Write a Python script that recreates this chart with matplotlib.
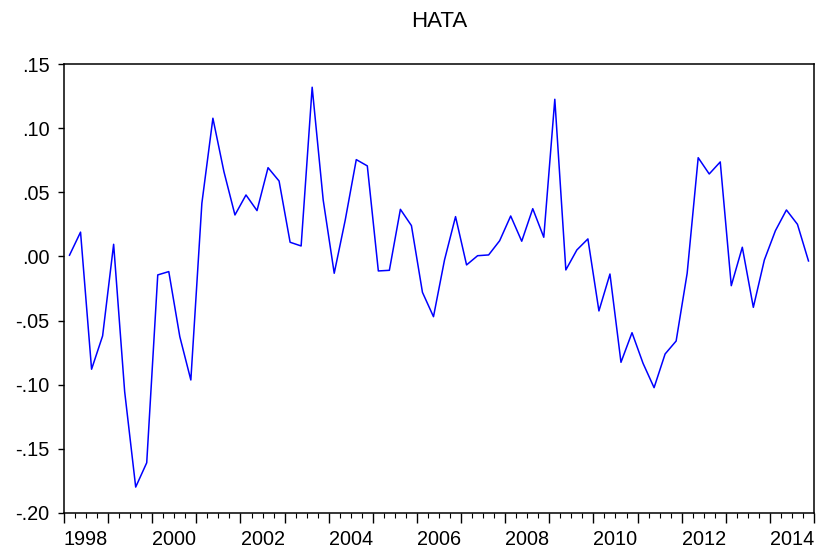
import numpy as np
import matplotlib
matplotlib.use("Agg")
import matplotlib.pyplot as plt

# quarterly residuals, 1998Q1 - 2014Q4
start_year = 1998
end_year = 2015
hata = [
    0.001, 0.019, -0.088, -0.062, 0.0095, -0.1055, -0.180, -0.161,
    -0.0144, -0.0118, -0.0626, -0.0964, 0.0415, 0.1079, 0.0662, 0.0324,
    0.048, 0.0358, 0.0693, 0.0589, 0.0111, 0.0082, 0.1321, 0.0441,
    -0.0131, 0.0285, 0.0756, 0.0707, -0.0113, -0.0108, 0.0368, 0.0241,
    -0.028, -0.047, -0.0027, 0.0311, -0.0066, 0.0006, 0.0012, 0.0123,
    0.0316, 0.0119, 0.0373, 0.015, 0.1227, -0.0105, 0.0051, 0.0137,
    -0.0425, -0.0137, -0.0826, -0.0595, -0.0834, -0.1024, -0.0761, -0.066,
    -0.0131, 0.0771, 0.0644, 0.0738, -0.0228, 0.0072, -0.0397, -0.0027,
    0.0201, 0.0363, 0.0251, -0.0035,
]
y_ticks = [0.15, 0.10, 0.05, 0.00, -0.05, -0.10, -0.15, -0.20]
y_labels = [".15", ".10", ".05", ".00", "-.05", "-.10", "-.15", "-.20"]
label_years = list(range(1998, 2015, 2))

plt.rcParams['font.family'] = ['Liberation Sans', 'DejaVu Sans']

fig = plt.figure(figsize=(8.16, 5.52), dpi=100)
ax = fig.add_axes([64 / 816, 1 - 512.7 / 552, (814 - 64) / 816, (512.7 - 64.3) / 552])

# observations sit in the middle of each quarter
x = start_year + (np.arange(len(hata)) + 0.5) / 4
ax.plot(x, hata, color='#0000FF', lw=1.1)

ax.set_xlim(start_year, end_year)
ax.set_ylim(-0.20, 0.15)

ax.set_yticks(y_ticks, labels=y_labels)

# long ticks at year boundaries, short ones at quarters, labels mid-year
ax.set_xticks(range(start_year, end_year + 1), labels=[])
quarters = [start_year + q / 4 for q in range((end_year - start_year) * 4) if q % 4 != 0]
qlabels = []
for q in quarters:
    if q % 1 == 0.5 and int(q) in label_years:
        qlabels.append(str(int(q)))
    else:
        qlabels.append("")
ax.set_xticks(quarters, labels=qlabels, minor=True)

ax.tick_params(axis='x', which='major', direction='out', length=7, width=1)
ax.tick_params(axis='x', which='minor', direction='out', length=3.8, width=0.8,
               pad=9, labelsize=14.3)
ax.tick_params(axis='y', direction='out', length=4.3, width=1, pad=6, labelsize=14.3)

for s in ax.spines.values():
    s.set_linewidth(1.1)
    s.set_color('black')

ax.set_title("HATA", fontsize=16, pad=27)

fig.savefig("out.png", dpi=100)
